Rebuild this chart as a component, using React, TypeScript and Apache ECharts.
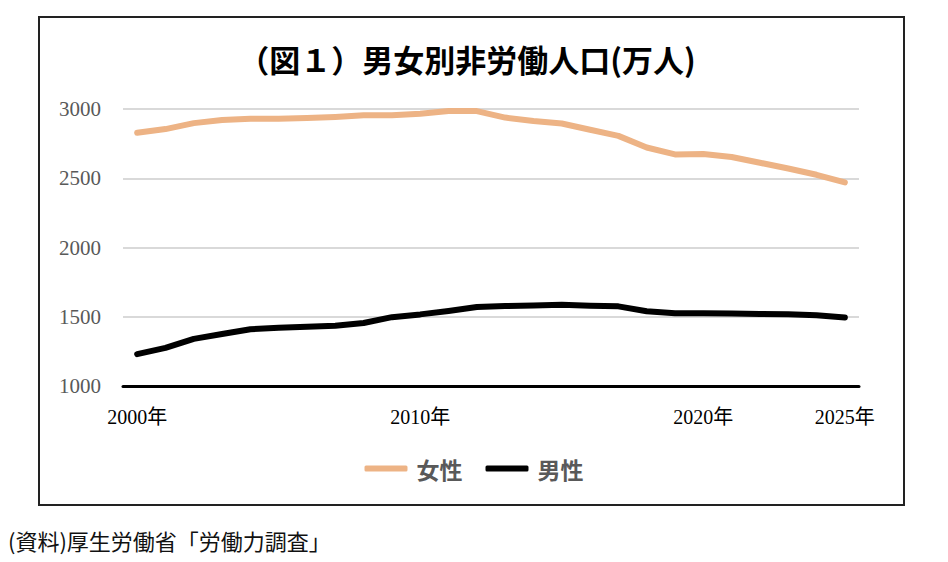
import React, { useEffect, useRef } from "react";
import * as echarts from "echarts";

const years = [
  "2000", "2001", "2002", "2003", "2004", "2005", "2006", "2007", "2008", "2009",
  "2010", "2011", "2012", "2013", "2014", "2015", "2016", "2017", "2018", "2019",
  "2020", "2021", "2022", "2023", "2024", "2025",
];
const labelledYears = ["2000", "2010", "2020", "2025"];
const women = [
  2828, 2855, 2898, 2920, 2930, 2930, 2935, 2943, 2955, 2955,
  2965, 2985, 2985, 2938, 2913, 2895, 2850, 2806, 2722, 2672,
  2675, 2653, 2612, 2570, 2525, 2470,
];
const men = [
  1230, 1275, 1340, 1375, 1410, 1420, 1427, 1435, 1455, 1497,
  1517, 1542, 1570, 1577, 1582, 1587, 1580, 1575, 1540, 1525,
  1525, 1523, 1520, 1518, 1510, 1495,
];
const seriesNames = ["女性", "男性"];
const titleText = "（図１）男女別非労働人口(万人)";
const sourceText = "(資料)厚生労働省「労働力調査」";

const serif = "'Liberation Serif', 'DejaVu Serif', 'Noto Sans CJK JP', serif";
const sans = "'Noto Sans CJK JP', 'Noto Sans', sans-serif";

export default function App() {
  const ref = useRef<HTMLDivElement>(null);
  useEffect(() => {
    document.body.style.margin = "0";
    if (!ref.current) return;
    const chart = echarts.init(ref.current, undefined, { renderer: "svg" });
    chart.setOption({
      animation: false,
      backgroundColor: "#fff",
      grid: { left: 123, right: 89, top: 109, bottom: 176 },
      xAxis: {
        type: "category",
        data: years,
        boundaryGap: true,
        axisLine: { show: true, lineStyle: { color: "#000", width: 3 } },
        axisTick: { show: false },
        axisLabel: {
          interval: (i: number, v: string) => labelledYears.includes(v),
          formatter: (v: string) => v + "年",
          color: "#000",
          fontFamily: serif,
          fontSize: 20,
          margin: 21,
        },
      },
      yAxis: {
        type: "value",
        min: 1000,
        max: 3000,
        interval: 500,
        axisLine: { show: false },
        axisTick: { show: false },
        splitLine: { lineStyle: { color: "#d9d9d9", width: 2 } },
        axisLabel: {
          formatter: (v: number) => String(v),
          color: "#595959",
          fontFamily: serif,
          fontSize: 21,
          margin: 22,
        },
      },
      legend: {
        data: seriesNames,
        left: "center",
        top: 452,
        icon: "roundRect",
        itemWidth: 43,
        itemHeight: 6,
        itemGap: 23,
        textStyle: {
          color: "#595959",
          fontFamily: sans,
          fontWeight: "bold",
          fontSize: 23,
          padding: [0, 0, 0, 4],
        },
      },
      graphic: [
        {
          type: "rect",
          shape: { x: 39, y: 17, width: 865, height: 488 },
          style: { fill: "none", stroke: "#222", lineWidth: 2 },
          silent: true,
          z: -1,
        },
        {
          type: "text",
          x: 467,
          y: 58,
          style: {
            text: titleText,
            fill: "#000",
            font: "bold 31px " + sans,
            textAlign: "center",
            textVerticalAlign: "middle",
          },
        },
        {
          type: "text",
          x: 8,
          y: 540,
          style: {
            text: sourceText,
            fill: "#111",
            font: "22px " + sans,
            textAlign: "left",
            textVerticalAlign: "middle",
          },
        },
      ],
      series: [
        {
          name: seriesNames[0],
          type: "line",
          data: women,
          showSymbol: false,
          symbol: "none",
          lineStyle: { color: "#EDB385", width: 6, cap: "round", join: "round" },
          itemStyle: { color: "#EDB385" },
        },
        {
          name: seriesNames[1],
          type: "line",
          data: men,
          showSymbol: false,
          symbol: "none",
          lineStyle: { color: "#000", width: 6, cap: "round", join: "round" },
          itemStyle: { color: "#000" },
        },
      ],
    });
    return () => chart.dispose();
  }, []);
  return <div ref={ref} style={{ width: 948, height: 562 }} />;
}
